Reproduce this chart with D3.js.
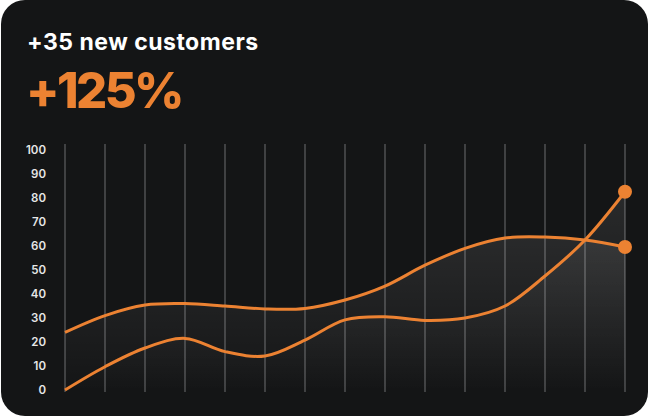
<!DOCTYPE html>
<html>
<head>
<meta charset="utf-8">
<script src="https://cdn.jsdelivr.net/npm/d3@7"></script>
<style>
  html, body { margin: 0; padding: 0; background: #ffffff; }
  svg { display: block; }
</style>
</head>
<body>
<div id="chart"></div>
<script>
// chart values
var xIndex = [0, 1, 2, 3, 4, 5, 6, 7, 8, 9, 10, 11, 12, 13, 14];
var upperSeries = [24, 31, 35.4, 36, 35, 33.8, 34, 37.5, 43.3, 52, 59, 63.3, 63.7, 62.5, 59.6];
var lowerSeries = [0, 9.7, 17.5, 21.5, 16, 14.2, 20.8, 29.2, 30.5, 29, 30, 35, 47.5, 62.5, 82.6];
var yTicks = [0, 10, 20, 30, 40, 50, 60, 70, 80, 90, 100];
var title = '+35 new customers';
var bigNumber = '+125%';

var w = 650, h = 418;
var orange = '#ec8232';

var svg = d3.select('#chart').append('svg')
  .attr('width', w)
  .attr('height', h);

var defs = svg.append('defs');
var grad = defs.append('linearGradient')
  .attr('id', 'areaGrad')
  .attr('x1', 0).attr('y1', 0).attr('x2', 0).attr('y2', 1);
grad.append('stop').attr('offset', '0%').attr('stop-color', '#ffffff').attr('stop-opacity', 0.09);
grad.append('stop').attr('offset', '100%').attr('stop-color', '#ffffff').attr('stop-opacity', 0.0);

// card
svg.append('rect')
  .attr('x', 1).attr('y', 0)
  .attr('width', w - 3).attr('height', h - 2)
  .attr('rx', 24).attr('ry', 24)
  .attr('fill', '#141516');

svg.append('text')
  .attr('x', 27).attr('y', 49.5)
  .attr('font-family', 'Inter, sans-serif')
  .attr('font-weight', 700)
  .attr('font-size', '23px')
  .attr('letter-spacing', '0.5px')
  .attr('fill', '#ffffff')
  .text(title);

svg.append('text')
  .attr('x', 26).attr('y', 107.5)
  .attr('font-family', 'Inter, sans-serif')
  .attr('font-weight', 800)
  .attr('font-size', '49px')
  .attr('letter-spacing', '-2.6px')
  .attr('fill', orange)
  .text(bigNumber);

var xScale = d3.scaleLinear().domain([0, 14]).range([65, 625]);
var yScale = d3.scaleLinear().domain([0, 100]).range([390, 150]);

// vertical grid
svg.append('g').selectAll('line')
  .data(xIndex)
  .enter().append('line')
  .attr('x1', function(d) { return xScale(d); })
  .attr('x2', function(d) { return xScale(d); })
  .attr('y1', 144)
  .attr('y2', 392)
  .attr('stroke', '#4c4d4f')
  .attr('stroke-width', 1.6);

// y labels
var yAxis = d3.axisLeft(yScale).tickValues(yTicks).tickSize(0).tickPadding(0);
var yAxisG = svg.append('g')
  .attr('transform', 'translate(46,0)')
  .call(yAxis);
yAxisG.select('.domain').remove();
yAxisG.selectAll('text')
  .attr('font-family', 'Inter, sans-serif')
  .attr('font-weight', 600)
  .attr('font-size', '11.5px')
  .attr('fill', '#e6e6e6');

var curve = d3.curveCatmullRom.alpha(0.5);

var area = d3.area()
  .x(function(d, i) { return xScale(i); })
  .y0(392)
  .y1(function(d) { return yScale(d); })
  .curve(curve);

var line = d3.line()
  .x(function(d, i) { return xScale(i); })
  .y(function(d) { return yScale(d); })
  .curve(curve);

[upperSeries, lowerSeries].forEach(function(s) {
  svg.append('path')
    .datum(s)
    .attr('d', area)
    .attr('fill', 'url(#areaGrad)');
});

[upperSeries, lowerSeries].forEach(function(s) {
  svg.append('path')
    .datum(s)
    .attr('d', line)
    .attr('fill', 'none')
    .attr('stroke', orange)
    .attr('stroke-width', 3);
  svg.append('circle')
    .attr('cx', xScale(s.length - 1))
    .attr('cy', yScale(s[s.length - 1]))
    .attr('r', 7)
    .attr('fill', orange);
});
</script>
</body>
</html>
